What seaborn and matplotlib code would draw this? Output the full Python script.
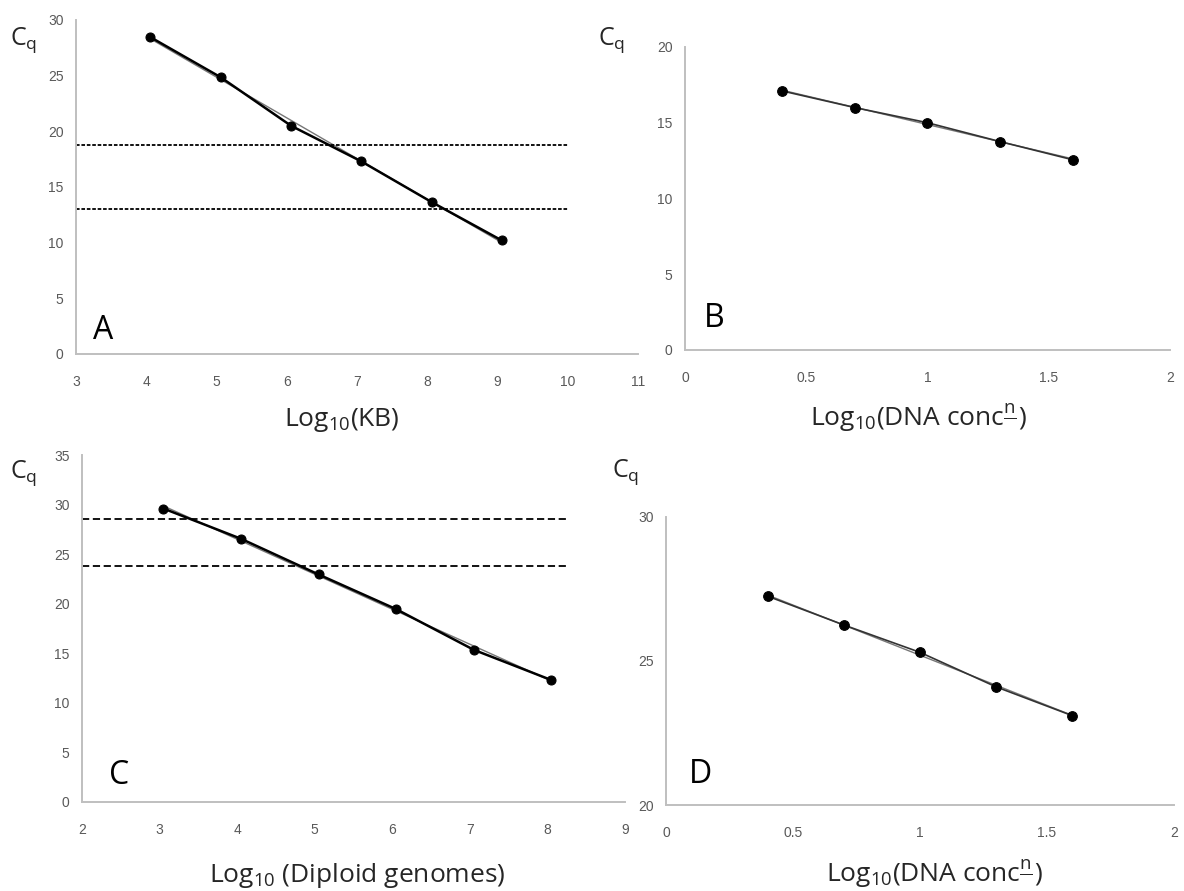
import matplotlib
matplotlib.use('Agg')
import matplotlib.pyplot as plt
import seaborn as sns
import numpy as np
import pandas as pd

# Panel A: Cq vs log10(KB)
a_x = [4.06, 5.06, 6.06, 7.06, 8.06, 9.06]
a_cq = [28.45, 24.85, 20.5, 17.3, 13.65, 10.2]
a_umbrales = [18.75, 13.0]
a_tramo = [3, 10]

# Panel B: Cq vs log10(DNA conc)
b_x = [0.40, 0.70, 1.00, 1.30, 1.60]
b_cq = [17.1, 16.0, 15.0, 13.75, 12.55]

# Panel C: Cq vs log10(diploid genomes)
c_x = [3.05, 4.05, 5.05, 6.05, 7.05, 8.05]
c_cq = [29.6, 26.55, 22.95, 19.45, 15.35, 12.3]
c_umbrales = [28.5, 23.8]
c_tramo = [2, 8.28]

# Panel D: Cq vs log10(DNA conc)
d_x = [0.40, 0.70, 1.00, 1.30, 1.60]
d_cq = [27.25, 26.25, 25.3, 24.1, 23.1]

xt_a = [3, 4, 5, 6, 7, 8, 9, 10, 11]
yt_a = [0, 5, 10, 15, 20, 25, 30]
xt_b = [0, 0.5, 1, 1.5, 2]
xt_b_lab = ['0', '0.5', '1', '1.5', '2']
yt_b = [0, 5, 10, 15, 20]
xt_c = [2, 3, 4, 5, 6, 7, 8, 9]
yt_c = [0, 5, 10, 15, 20, 25, 30, 35]
yt_d = [20, 25, 30]

sns.set_style('white')
plt.rcParams['font.family'] = ['Open Sans', 'DejaVu Sans']
plt.rcParams['mathtext.fontset'] = 'custom'
plt.rcParams['mathtext.rm'] = 'Open Sans'
plt.rcParams['mathtext.it'] = 'Open Sans'

GRIS_EJE = '#bfbfbf'
GRIS_TXT = '#595959'
FUENTE_TICKS = ['Liberation Sans', 'DejaVu Sans']


def dibujar_panel(ax, x, y, xlim, ylim, xticks, yticks, letra, letra_pos,
                  xticklabels=None, umbrales=None, tramo=None, estilo_umbral=(0, (2, 1)),
                  lw=1.8, ms=6.5, color_linea='black'):
    df = pd.DataFrame({'x': x, 'cq': y})
    # linea de tendencia (ajuste lineal)
    sns.regplot(data=df, x='x', y='cq', ax=ax, ci=None, scatter=False, truncate=True,
                line_kws=dict(color='#777777', lw=1.0))
    sns.lineplot(data=df, x='x', y='cq', ax=ax, color=color_linea, lw=lw, marker='o',
                 markersize=ms, markeredgecolor='black', markerfacecolor='black', sort=False)
    if umbrales is not None:
        for u in umbrales:
            ax.hlines(u, tramo[0], tramo[1], colors='black', linestyles=[estilo_umbral], lw=1.3)
    ax.set_xlim(*xlim)
    ax.set_ylim(*ylim)
    ax.set_xticks(xticks)
    ax.set_yticks(yticks)
    if xticklabels is not None:
        ax.set_xticklabels(xticklabels)
    for lab in ax.get_xticklabels() + ax.get_yticklabels():
        lab.set_family(FUENTE_TICKS)
        lab.set_fontsize(10)
        lab.set_color(GRIS_TXT)
    ax.tick_params(axis='x', length=0, pad=15)
    ax.tick_params(axis='y', length=0, pad=9)
    ax.set_xlabel('')
    ax.set_ylabel('')
    for s in ['top', 'right']:
        ax.spines[s].set_visible(False)
    for s in ['left', 'bottom']:
        ax.spines[s].set_color(GRIS_EJE)
        ax.spines[s].set_linewidth(1.4)
    ax.text(letra_pos[0], letra_pos[1], letra, transform=ax.transAxes, fontsize=23,
            ha='left', va='bottom', color='black')


fig = plt.figure(figsize=(11.84, 8.91), dpi=100)

ax_a = fig.add_axes([0.0642, 0.6027, 0.4747, 0.3749])
ax_b = fig.add_axes([0.5785, 0.6072, 0.4097, 0.3401])
ax_c = fig.add_axes([0.0693, 0.0999, 0.4586, 0.3894])
ax_d = fig.add_axes([0.5625, 0.0965, 0.4291, 0.3233])

dibujar_panel(ax_a, a_x, a_cq, (3, 11), (0, 30), xt_a, yt_a, 'A', (0.03, 0.02),
              umbrales=a_umbrales, tramo=a_tramo, estilo_umbral=(0, (2, 1)))
dibujar_panel(ax_b, b_x, b_cq, (0, 2), (0, 20), xt_b, yt_b, 'B', (0.04, 0.05),
              xticklabels=xt_b_lab, lw=1.2, ms=7, color_linea='#333333')
dibujar_panel(ax_c, c_x, c_cq, (2, 9), (0, 35), xt_c, yt_c, 'C', (0.05, 0.03),
              umbrales=c_umbrales, tramo=c_tramo, estilo_umbral=(0, (4, 2)))
dibujar_panel(ax_d, d_x, d_cq, (0, 2), (20, 30), xt_b, yt_d, 'D', (0.045, 0.05),
              xticklabels=xt_b_lab, lw=1.2, ms=7, color_linea='#333333')

# etiquetas de ejes
cq = r'C$_{\mathregular{q}}$'
for px, py in [(24, 40), (612, 40), (24, 473), (626, 472)]:
    fig.text(px / 1184, 1 - py / 891, cq, fontsize=18, ha='center', va='center')

conc = r'Log$_{10}$(DNA conc$\frac{\mathregular{n}}{\ }$)'
etiquetas_x = [
    (342, 426, r'Log$_{10}$(KB)'),
    (918, 426, conc),
    (357, 882, r'Log$_{10}$ (Diploid genomes)'),
    (934, 882, conc),
]
for px, py, txt in etiquetas_x:
    fig.text(px / 1184, 1 - py / 891, txt, fontsize=19, ha='center', va='baseline')

fig.savefig('out.png', dpi=100)
plt.close(fig)
